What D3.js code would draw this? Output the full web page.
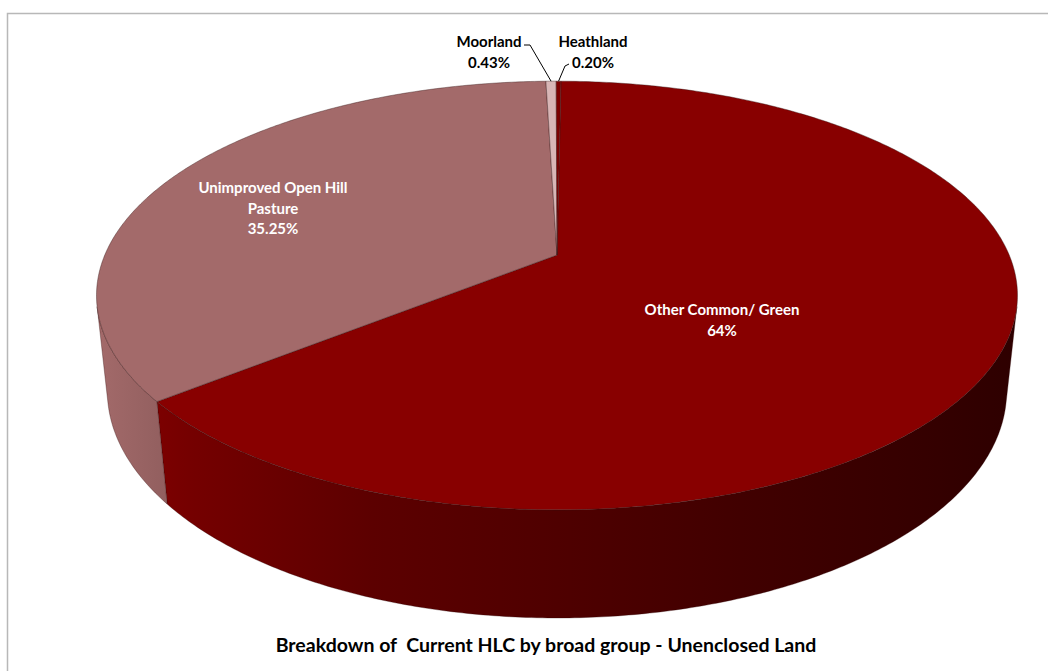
<!DOCTYPE html>
<html>
<head>
<meta charset="utf-8">
<script src="https://cdn.jsdelivr.net/npm/d3@7"></script>
<style>
  body { margin: 0; background: #fff; }
  svg { display: block; }
  text { font-family: Lato, "Open Sans", sans-serif; font-weight: 700; }
</style>
</head>
<body>
<div id="chart"></div>
<script>
var width = 1048, height = 671;

// data, in the order Excel draws it (clockwise from 12 o'clock)
var categories = ["Other Common/ Green", "Unimproved Open Hill Pasture", "Moorland", "Heathland"];
var values = [64, 35.25, 0.43, 0.20];
var valueLabels = ["64%", "35.25%", "0.43%", "0.20%"];
var topColors = ["#880000", "#a36a6a", "#d8b6b6", "#7c0000"];

// 3d view set up (pie radius = 1)
var tilt = 27.2 * Math.PI / 180,
  camDist = 4.708,
  depthZ = 0.239,
  startDeg = 0.6;

var cx = 557, cy = 255, spread = 452.2;
var xScale = d3.scaleLinear().domain([-1, 1]).range([cx - spread, cx + spread]);
var yScale = d3.scaleLinear().domain([-1, 1]).range([cy + spread, cy - spread]);

function project(theta, r, z) {
  var X = r * Math.sin(theta), Y = r * Math.cos(theta);
  var depth = camDist + Y * Math.cos(tilt) - z * Math.sin(tilt);
  var up = Y * Math.sin(tilt) + z * Math.cos(tilt);
  return [xScale(X * camDist / depth), yScale(up * camDist / depth)];
}

var pie = d3.pie().sort(null)
  .startAngle(startDeg * Math.PI / 180)
  .endAngle((startDeg + 360) * Math.PI / 180);
var arcs = pie(values);

var svg = d3.select("#chart").append("svg")
  .attr("width", width)
  .attr("height", height);

// chart frame
svg.append("rect")
  .attr("x", 7.5).attr("y", 13.5)
  .attr("width", 1100).attr("height", 700)
  .attr("fill", "none")
  .attr("stroke", "#b8b8b8")
  .attr("stroke-width", 1.5);

// visible outer wall: normal facing camera
var visLimit = Math.acos(-1 / (camDist * Math.cos(tilt)));
var visFrom = visLimit, visTo = 2 * Math.PI - visLimit;

var defs = svg.append("defs");
var leftX = project(-visLimit, 1, 0)[0], rightX = project(visLimit, 1, 0)[0];
var shadeStops = [[0, 1.0], [0.1, 0.86], [0.3, 0.68], [0.5, 0.58], [0.7, 0.48], [0.9, 0.39], [1, 0.34]];

topColors.forEach(function(c, i) {
  var g = defs.append("linearGradient")
    .attr("id", "wall-" + i)
    .attr("gradientUnits", "userSpaceOnUse")
    .attr("x1", leftX).attr("x2", rightX)
    .attr("y1", 0).attr("y2", 0);
  g.selectAll("stop").data(shadeStops).enter().append("stop")
    .attr("offset", function(d) { return d[0]; })
    .attr("stop-color", function(d) { return d3.interpolateRgb("#000", c)(d[1]); });
});

function arcPoints(a0, a1, z) {
  var n = Math.max(2, Math.ceil(Math.abs(a1 - a0) / 0.01));
  return d3.range(n + 1).map(function(k) {
    return project(a0 + (a1 - a0) * k / n, 1, z);
  });
}

var line = d3.line();

// walls
var walls = svg.append("g").attr("class", "walls");
arcs.forEach(function(d, i) {
  var a0 = Math.max(d.startAngle, visFrom), a1 = Math.min(d.endAngle, visTo);
  if (a1 <= a0) return;
  var pts = arcPoints(a0, a1, 0).concat(arcPoints(a1, a0, -depthZ));
  walls.append("path")
    .attr("d", line(pts) + "Z")
    .attr("fill", "url(#wall-" + i + ")")
    .attr("stroke", "#2a0000")
    .attr("stroke-opacity", 0.45)
    .attr("stroke-width", 0.7)
    .attr("stroke-linejoin", "round");
});

// top face
var tops = svg.append("g").attr("class", "tops");
arcs.forEach(function(d, i) {
  var pts = [project(0, 0, 0)].concat(arcPoints(d.startAngle, d.endAngle, 0));
  tops.append("path")
    .attr("d", line(pts) + "Z")
    .attr("fill", topColors[i])
    .attr("stroke", "#3a1a1a")
    .attr("stroke-opacity", 0.6)
    .attr("stroke-width", 0.7)
    .attr("stroke-linejoin", "round");
});

// labels
var labelLines = [
  ["Other Common/ Green", "64%"],
  ["Unimproved Open Hill", "Pasture", "35.25%"],
  ["Moorland", "0.43%"],
  ["Heathland", "0.20%"]
];
var labelPos = [[722, 315], [273, 193], [489, 47], [593, 47]];
var labelFill = ["#fff", "#fff", "#000", "#000"];

labelLines.forEach(function(lines, i) {
  var t = svg.append("text")
    .attr("text-anchor", "middle")
    .attr("font-size", 15)
    .attr("fill", labelFill[i]);
  lines.forEach(function(s, j) {
    t.append("tspan")
      .attr("x", labelPos[i][0])
      .attr("y", labelPos[i][1] + j * 20.5)
      .text(s);
  });
});

// leader lines for the thin slices
var mid2 = (arcs[2].startAngle + arcs[2].endAngle) / 2,
  mid3 = (arcs[3].startAngle + arcs[3].endAngle) / 2;
var p2 = project(mid2, 1, 0), p3 = project(mid3, 1, 0);
svg.append("path")
  .attr("d", line([[524, 45], [530, 45], p2]))
  .attr("fill", "none").attr("stroke", "#000").attr("stroke-width", 1);
svg.append("path")
  .attr("d", line([[569, 64], [565, 66], p3]))
  .attr("fill", "none").attr("stroke", "#000").attr("stroke-width", 1);

// title
svg.append("text")
  .attr("x", 546)
  .attr("y", 652)
  .attr("text-anchor", "middle")
  .attr("font-size", 19.5)
  .attr("fill", "#000")
  .style("white-space", "pre")
  .text("Breakdown of  Current HLC by broad group - Unenclosed Land");
</script>
</body>
</html>
